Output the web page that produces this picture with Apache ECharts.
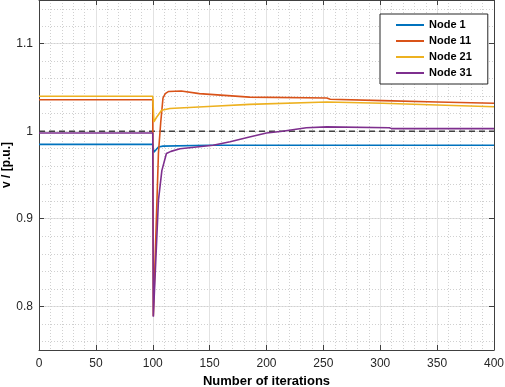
<!DOCTYPE html>
<html>
<head>
<meta charset="utf-8">
<script src="https://cdn.jsdelivr.net/npm/echarts@6/dist/echarts.min.js"></script>
<style>
  html, body { margin: 0; padding: 0; background: #fff; }
  #main { width: 505px; height: 387px; }
</style>
</head>
<body>
<div id="main"></div>
<script>
// values
var xTicks = [0, 50, 100, 150, 200, 250, 300, 350, 400];
var yTicks = [0.8, 0.9, 1, 1.1];

var iterN1 = [0, 100, 101, 105, 109, 150, 200, 250, 300, 350, 400];
var voltN1 = [0.985, 0.985, 0.976, 0.982, 0.983, 0.984, 0.984, 0.984, 0.984, 0.984, 0.984];

var iterN11 = [0, 100, 100.5, 105, 107, 109, 111, 114, 125, 141, 185, 253, 256, 302, 350, 400];
var voltN11 = [1.036, 1.036, 0.789, 0.975, 1.010, 1.038, 1.043, 1.0455, 1.046, 1.043, 1.039, 1.038, 1.0365, 1.035, 1.0335, 1.032];

var iterN21 = [0, 100, 101, 103.4, 107.8, 115, 153, 185, 253, 302, 350, 400];
var voltN21 = [1.040, 1.040, 1.0107, 1.016, 1.024, 1.026, 1.0286, 1.0307, 1.0335, 1.032, 1.030, 1.028];

var iterN31 = [0, 100, 100.5, 105, 108, 112, 116, 124, 153, 168, 185, 200, 214, 235, 253, 254, 308, 310, 400];
var voltN31 = [0.998, 0.998, 0.788, 0.921, 0.955, 0.9745, 0.977, 0.980, 0.984, 0.988, 0.9935, 0.998, 1.0, 1.004, 1.005, 1.004, 1.004, 1.003, 1.003];

var refIter = [0, 400];
var refVolt = [1, 1];

function pairs(xs, ys) {
    var out = [];
    for (var i = 0; i < xs.length; i++) {
        out.push([xs[i], ys[i]]);
    }
    return out;
}

var myChart = echarts.init(document.getElementById('main'));

var font = '"Liberation Sans", Arial, Helvetica, sans-serif';
var axisColor = '#404040';

function nodeSeries(name, color, xs, ys) {
    return {
        name: name,
        type: 'line',
        data: pairs(xs, ys),
        showSymbol: false,
        symbol: 'none',
        lineStyle: { color: color, width: 1.6 },
        itemStyle: { color: color },
        z: 3
    };
}

myChart.setOption({
    animation: false,
    backgroundColor: '#fff',
    grid: {
        left: 39,
        right: 11,
        top: 0,
        bottom: 37,
        containLabel: false,
        outerBoundsMode: 'none'
    },
    legend: {
        data: ['Node 1', 'Node 11', 'Node 21', 'Node 31'],
        orient: 'vertical',
        left: 380,
        top: 14,
        width: 107,
        padding: [4, 16, 4, 16],
        itemGap: 2,
        itemWidth: 28,
        itemHeight: 2,
        icon: 'rect',
        backgroundColor: '#fff',
        borderColor: '#262626',
        borderWidth: 1,
        textStyle: {
            fontFamily: font,
            fontWeight: 'bold',
            fontSize: 11,
            lineHeight: 14,
            color: '#000'
        }
    },
    xAxis: [{
        type: 'value',
        min: 0,
        max: 400,
        interval: 50,
        name: 'Number of iterations',
        nameLocation: 'middle',
        nameGap: 25,
        nameMoveOverlap: false,
        nameTextStyle: { fontFamily: font, fontWeight: 'bold', fontSize: 13, color: '#000' },
        axisLine: { show: true, onZero: false, lineStyle: { color: axisColor, width: 1 } },
        axisTick: { show: true, inside: true, length: 5, lineStyle: { color: axisColor } },
        axisLabel: { fontFamily: font, fontSize: 12, color: '#262626', margin: 8 },
        splitLine: { show: true, lineStyle: { color: '#e2e2e2', width: 1 } },
        minorTick: { show: false, splitNumber: 5 },
        minorSplitLine: { show: true, lineStyle: { color: '#d0d0d0', width: 1, type: [1, 2] } }
    }, {
        type: 'value',
        position: 'top',
        min: 0,
        max: 400,
        interval: 50,
        axisLine: { show: true, onZero: false, lineStyle: { color: axisColor, width: 1 } },
        axisTick: { show: true, inside: true, length: 5, lineStyle: { color: axisColor } },
        axisLabel: { show: false },
        splitLine: { show: false }
    }],
    yAxis: [{
        type: 'value',
        min: 0.75,
        max: 1.15,
        splitNumber: 4,
        name: 'v / [p.u.]',
        nameLocation: 'middle',
        nameGap: 26,
        nameRotate: 90,
        nameMoveOverlap: false,
        nameTextStyle: { fontFamily: font, fontWeight: 'bold', fontSize: 12, color: '#000', padding: [0, 0, 0, 20] },
        axisLine: { show: true, onZero: false, lineStyle: { color: axisColor, width: 1 } },
        axisTick: { show: true, inside: true, length: 5, lineStyle: { color: axisColor } },
        axisLabel: {
            fontFamily: font, fontSize: 12, color: '#262626', margin: 6,
            showMinLabel: false, showMaxLabel: false,
            formatter: function (v) {
                for (var i = 0; i < yTicks.length; i++) {
                    if (Math.abs(v - yTicks[i]) < 1e-6) return String(yTicks[i]);
                }
                return '';
            }
        },
        splitLine: { show: true, lineStyle: { color: '#e2e2e2', width: 1 } }
    }, {
        type: 'value',
        position: 'right',
        min: 0.75,
        max: 1.15,
        splitNumber: 4,
        axisLine: { show: true, onZero: false, lineStyle: { color: axisColor, width: 1 } },
        axisTick: { show: true, inside: true, length: 5, lineStyle: { color: axisColor } },
        axisLabel: { show: false },
        splitLine: { show: false }
    }, {
        // minor grid every 0.02
        type: 'value',
        position: 'left',
        min: 0.75,
        max: 1.15,
        splitNumber: 20,
        axisLine: { show: false },
        axisTick: { show: false },
        axisLabel: { show: false },
        splitLine: { show: true, lineStyle: { color: '#d0d0d0', width: 1, type: [1, 2] } }
    }],
    series: [
        nodeSeries('Node 1', '#0072BD', iterN1, voltN1),
        nodeSeries('Node 11', '#D95319', iterN11, voltN11),
        nodeSeries('Node 21', '#EDB120', iterN21, voltN21),
        nodeSeries('Node 31', '#7E2F8E', iterN31, voltN31),
        {
            name: 'ref',
            type: 'line',
            data: pairs(refIter, refVolt),
            showSymbol: false,
            symbol: 'none',
            lineStyle: { color: '#404040', width: 1.5, type: [6, 4] },
            z: 2
        }
    ]
});
</script>
</body>
</html>
